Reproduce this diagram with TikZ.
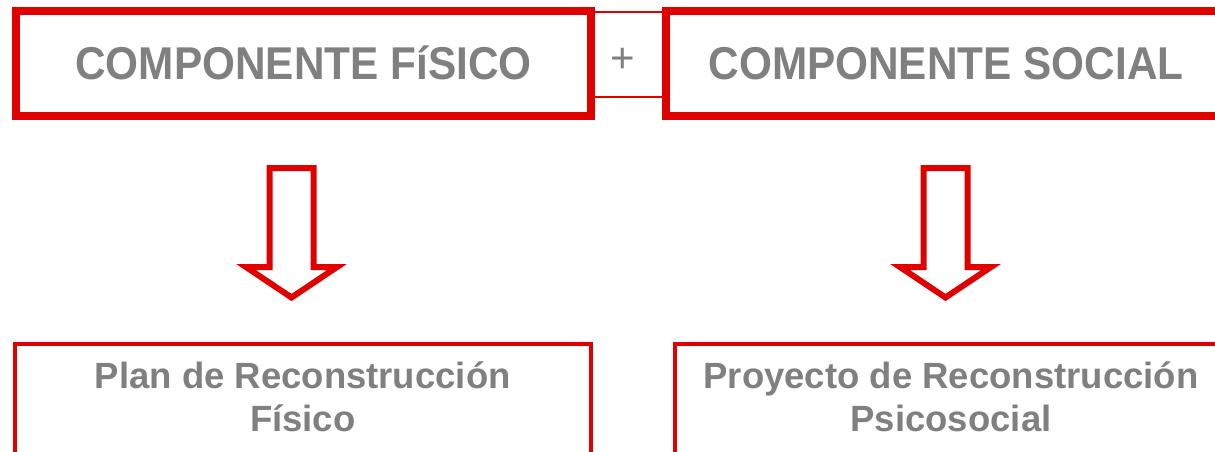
\documentclass[tikz,border=0pt]{standalone}
\usepackage{fontspec}
\setmainfont{Liberation Sans}
\usepackage{graphicx}
\definecolor{cred}{RGB}{225,0,0}
\definecolor{cgray}{RGB}{128,128,128}
\begin{document}
\begin{tikzpicture}[x=1pt,y=-1pt,
  topbox/.style={draw=cred, line width=8pt, fill=white, minimum height=104.5pt, inner sep=0pt},
  lowbox/.style={draw=cred, line width=4pt, inner sep=0pt, minimum height=176pt},
  toptext/.style={text=cgray, font=\fontsize{46}{50}\selectfont\bfseries, anchor=base, inner sep=0pt},
  lowtext/.style={text=cgray, font=\fontsize{36.5}{42}\selectfont\bfseries, anchor=base, inner sep=0pt},
  blockarrow/.style={draw=cred, line width=6pt, miter limit=10, fill=white},
  link/.style={draw=cred, line width=2pt, inner sep=0pt},
  downarrow/.pic={\draw[blockarrow] (-22,168) -- (22,168) -- (22,267) -- (45.5,267) -- (0,297.5) -- (-45.5,267) -- (-22,267) -- cycle;}]
\clip (0,0) rectangle (1215,452);
\fill[white] (0,0) rectangle (1215,452);
% connector between the two top boxes
\node[link, minimum width=75pt, minimum height=85pt] (plus) at (628.5,54.5) {};
\node[text=cgray, font=\fontsize{42}{42}\selectfont, inner sep=0pt] (plussign) at (623,60) {+};
% top boxes
\node[topbox, minimum width=575pt] (fis) at (303.5,63.5) {};
\node[topbox, minimum width=560pt] (soc) at (946,63.5) {};
\node[toptext] (fist) at (303.5,80) {\scalebox{0.92}[1]{COMPONENTE FíSICO}};
\node[toptext] (soct) at (946,80) {\scalebox{0.92}[1]{COMPONENTE SOCIAL}};
% arrows
\pic (arrL) at (291.5,0) {downarrow};
\pic (arrR) at (945.5,0) {downarrow};
% bottom boxes
\node[lowbox, minimum width=575.5pt] (plan) at (302.75,432) {};
\node[lowbox, minimum width=552pt] (proy) at (951,432) {};
\node[lowtext] (plan1) at (302.75,388) {Plan de Reconstrucción};
\node[lowtext] (plan2) at (302.75,431) {Físico};
\node[lowtext] (proy1) at (951,388) {Proyecto de Reconstrucción};
\node[lowtext] (proy2) at (951,431) {Psicosocial};
\end{tikzpicture}
\end{document}
